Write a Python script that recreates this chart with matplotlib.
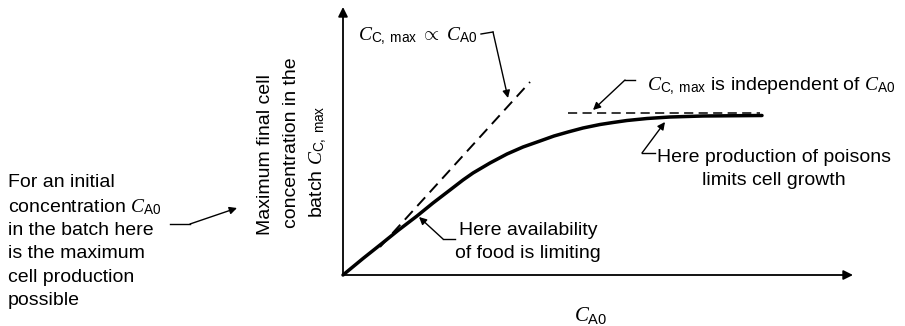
import matplotlib
matplotlib.use("Agg")
import matplotlib.pyplot as plt

plt.rcParams["font.family"] = ["Liberation Sans", "DejaVu Sans"]
plt.rcParams["mathtext.fontset"] = "custom"
plt.rcParams["mathtext.rm"] = "Liberation Sans"
plt.rcParams["mathtext.it"] = "Liberation Serif:italic"
plt.rcParams["mathtext.sf"] = "Liberation Sans"

# ── Datos (unidades arbitrarias) ───────────────────────────────────────────
c_a0 = [0, 20, 37, 55, 74, 90, 107, 120, 130, 147, 164, 180, 197, 211,
        225, 240, 257, 270, 284, 304, 327, 360, 419]
c_c_max = [0, 16.5, 30, 44.5, 59, 72, 85, 95, 102, 112, 121, 128, 134, 139,
           143, 147, 150.5, 152.5, 154.5, 156.5, 158, 159, 159.5]

prop_x = [37, 187]        # C_C,max ∝ C_A0
prop_y = [28, 193]
plateau_x = [225, 417]    # C_C,max independiente de C_A0
plateau_y = [162, 162]

x_axis_len = 510
y_axis_len = 268

FS = 14
K = "black"

fig = plt.figure(figsize=(9.05, 3.26), dpi=100)
ax = fig.add_axes([0, 0, 1, 1])
ax.set_xlim(-343, 562)
ax.set_ylim(-51, 275)
ax.axis("off")

arrow = dict(arrowstyle="-|>", color=K, lw=1.0, mutation_scale=11,
             shrinkA=0, shrinkB=0)

# Ejes con flechas
ax.annotate("", xy=(x_axis_len, 0), xytext=(0, 0),
            arrowprops=dict(arrow, lw=1.3, mutation_scale=14))
ax.annotate("", xy=(0, y_axis_len), xytext=(0, 0),
            arrowprops=dict(arrow, lw=1.3, mutation_scale=14))

# Curva y rectas
ax.plot(c_a0, c_c_max, color=K, lw=2.5, solid_joinstyle="round",
        solid_capstyle="round")
ax.plot(prop_x, prop_y, color=K, lw=1.4, ls=(0, (6, 3.5)))
ax.plot(plateau_x, plateau_y, color=K, lw=1.1, ls=(0, (6, 3.5)))

# Etiqueta eje X
ax.text(248, -40, r"$C_{\mathrm{A0}}$", fontsize=15, ha="center", va="center")

# Etiqueta eje Y (tres renglones rotados)
ylab = ["Maximum final cell", "concentration in the",
        r"batch $C_{\mathrm{C,\ max}}$"]
ylab_x = [-73, -47, -21]
ylab_y = [120, 132, 113]
for s, xx, yy in zip(ylab, ylab_x, ylab_y):
    ax.text(xx, yy, s, fontsize=FS, rotation=90, rotation_mode="anchor",
            ha="center", va="baseline")

# Texto de la izquierda
left_lines = ["For an initial", r"concentration $C_{\mathrm{A0}}$",
              "in the batch here", "is the maximum", "cell production",
              "possible"]
left_y = [88, 63, 40, 17, -7, -30]
for s, yy in zip(left_lines, left_y):
    ax.text(-335, yy, s, fontsize=FS, ha="left", va="baseline")
ax.plot([-173, -153], [51, 51], color=K, lw=1.0)
ax.annotate("", xy=(-106, 67), xytext=(-153, 51), arrowprops=arrow)

# C_C,max ∝ C_A0
ax.text(15, 235, r"$C_{\mathrm{C,\ max}}\ \propto\ C_{\mathrm{A0}}$",
        fontsize=FS, ha="left", va="baseline")
ax.plot([138, 150], [241, 243], color=K, lw=1.0)
ax.annotate("", xy=(165, 177), xytext=(150, 243), arrowprops=arrow)

# C_C,max independiente
ax.text(304, 185, r"$C_{\mathrm{C,\ max}}$ is independent of $C_{\mathrm{A0}}$",
        fontsize=FS, ha="left", va="baseline")
ax.plot([292, 282], [195, 195], color=K, lw=1.0)
ax.annotate("", xy=(250, 165), xytext=(282, 195), arrowprops=arrow)

# Venenos
ax.text(431, 113, "Here production of poisons", fontsize=FS,
        ha="center", va="baseline")
ax.text(431, 90, "limits cell growth", fontsize=FS, ha="center", va="baseline")
ax.plot([312, 299], [122, 122], color=K, lw=1.0)
ax.annotate("", xy=(322, 153), xytext=(299, 122), arrowprops=arrow)

# Alimento
ax.text(185, 40, "Here availability", fontsize=FS, ha="center", va="baseline")
ax.text(185, 17, "of food is limiting", fontsize=FS, ha="center", va="baseline")
ax.plot([112, 100], [36, 36], color=K, lw=1.0)
ax.annotate("", xy=(76, 58), xytext=(100, 36), arrowprops=arrow)

fig.savefig("out.png", dpi=100, facecolor="white")
